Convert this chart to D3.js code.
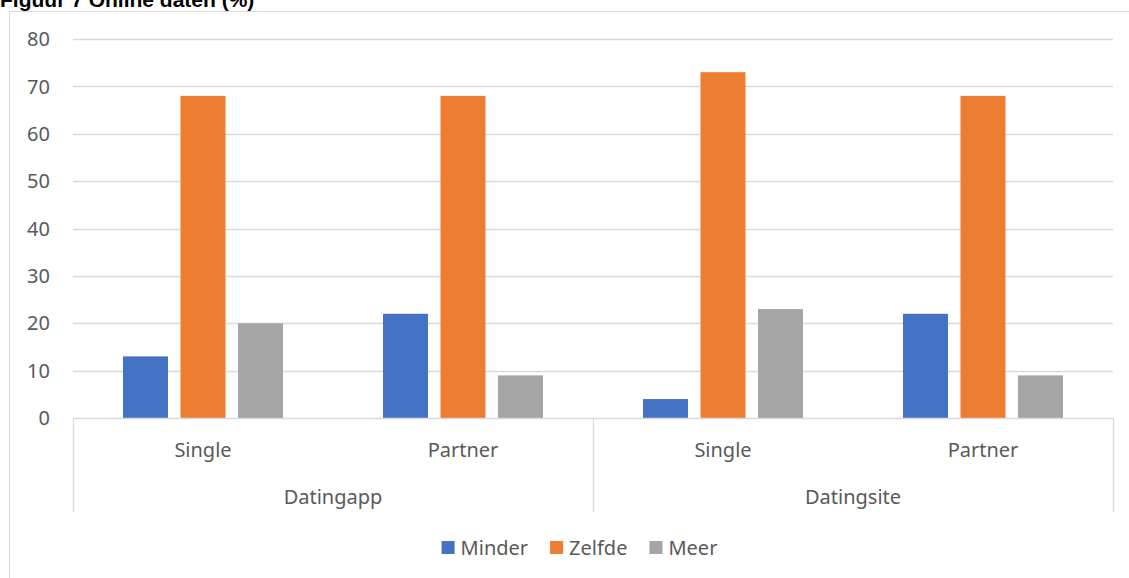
<!DOCTYPE html>
<html>
<head>
<meta charset="utf-8">
<script src="https://cdn.jsdelivr.net/npm/d3@7"></script>
<style>
  body { margin: 0; background: #fff; }
  svg { display: block; }
  text { font-family: "Noto Sans", "Open Sans", sans-serif; fill: #595959; }
</style>
</head>
<body>
<svg id="chart" width="1129" height="578"></svg>
<script>
var groups = ["Datingapp", "Datingsite"];
var categories = ["Single", "Partner", "Single", "Partner"];
var series = ["Minder", "Zelfde", "Meer"];
var colors = ["#4472C4", "#ED7D31", "#A5A5A5"];
var minder = [13, 22, 4, 22];
var zelfde = [68, 68, 73, 68];
var meer = [20, 9, 23, 9];
var yTicks = [0, 10, 20, 30, 40, 50, 60, 70, 80];

var values = [minder, zelfde, meer];
var plotLeft = 73, plotRight = 1113, plotTop = 39, plotBottom = 418;
var gridColor = "#d9d9d9";
var labelSize = "20px";

var svg = d3.select("#chart");

// title, mostly cut off at the top like in the source
svg.append("text")
    .attr("x", 0)
    .attr("y", 7)
    .style("font-family", "'Liberation Sans Narrow', 'Arial Narrow', 'Liberation Sans', sans-serif")
    .style("font-weight", "bold")
    .style("font-size", "21px")
    .style("fill", "#000")
    .text("Figuur 7 Online daten (%)");

// chart frame
svg.append("path")
    .attr("d", "M9.5,578 V11.5 H1129")
    .attr("fill", "none")
    .attr("stroke", gridColor)
    .attr("stroke-width", 1);

var y = d3.scaleLinear().domain([0, 80]).range([plotBottom, plotTop]);

var x0 = d3.scaleBand()
    .domain(d3.range(categories.length))
    .range([plotLeft, plotRight])
    .padding(0);

var x1 = d3.scaleBand()
    .domain(series)
    .range([0, x0.bandwidth()])
    .paddingInner(0.217)
    .paddingOuter(0.87);

// gridlines
svg.append("g")
    .selectAll("line")
    .data(yTicks.filter(function(d) { return d > 0; }))
    .join("line")
    .attr("x1", plotLeft)
    .attr("x2", plotRight)
    .attr("y1", function(d) { return Math.round(y(d)) + 0.5; })
    .attr("y2", function(d) { return Math.round(y(d)) + 0.5; })
    .attr("stroke", gridColor)
    .attr("stroke-width", 1.3);

// y tick labels
svg.append("g")
    .selectAll("text")
    .data(yTicks)
    .join("text")
    .attr("x", 50)
    .attr("y", function(d) { return y(d); })
    .attr("dy", "0.36em")
    .attr("text-anchor", "end")
    .style("font-size", labelSize)
    .text(function(d) { return d; });

// bars
var barGroups = svg.append("g")
    .selectAll("g")
    .data(categories.map(function(c, i) { return i; }))
    .join("g")
    .attr("transform", function(i) { return "translate(" + x0(i) + ",0)"; });

barGroups.selectAll("rect")
    .data(function(i) {
        return series.map(function(s, k) { return { key: s, value: values[k][i], color: colors[k] }; });
    })
    .join("rect")
    .attr("x", function(d) { return x1(d.key); })
    .attr("width", x1.bandwidth())
    .attr("y", function(d) { return y(d.value); })
    .attr("height", function(d) { return y(0) - y(d.value); })
    .attr("fill", function(d) { return d.color; });

// category axis: baseline and group separators
svg.append("line")
    .attr("x1", plotLeft)
    .attr("x2", plotRight)
    .attr("y1", plotBottom + 0.5)
    .attr("y2", plotBottom + 0.5)
    .attr("stroke", gridColor)
    .attr("stroke-width", 1.3);

var groupSize = categories.length / groups.length;
var separators = d3.range(groups.length + 1).map(function(g) {
    return g < groups.length ? x0(g * groupSize) : x0.range()[1];
});
svg.append("g")
    .selectAll("line")
    .data(separators)
    .join("line")
    .attr("x1", function(d) { return Math.round(d) + 0.5; })
    .attr("x2", function(d) { return Math.round(d) + 0.5; })
    .attr("y1", plotBottom)
    .attr("y2", 512)
    .attr("stroke", gridColor)
    .attr("stroke-width", 1.3);

svg.append("g")
    .selectAll("text")
    .data(categories)
    .join("text")
    .attr("x", function(d, i) { return x0(i) + x0.bandwidth() / 2; })
    .attr("y", 457)
    .attr("text-anchor", "middle")
    .style("font-size", labelSize)
    .text(function(d) { return d; });

svg.append("g")
    .selectAll("text")
    .data(groups)
    .join("text")
    .attr("x", function(d, g) { return x0(g * groupSize) + x0.bandwidth() * groupSize / 2; })
    .attr("y", 504)
    .attr("text-anchor", "middle")
    .style("font-size", labelSize)
    .text(function(d) { return d; });

// legend
var legend = svg.append("g");
var items = legend.selectAll("g")
    .data(series)
    .join("g");
items.append("rect")
    .attr("width", 13)
    .attr("height", 13)
    .attr("y", 541)
    .attr("fill", function(d, k) { return colors[k]; });
items.append("text")
    .attr("x", 19)
    .attr("y", 555)
    .style("font-size", labelSize)
    .text(function(d) { return d; });

var lx = 0;
var offsets = [];
items.each(function() {
    offsets.push(lx);
    lx += this.getBBox().width + 22;
});
var totalW = lx - 22;
var startX = 579.5 - totalW / 2;
items.attr("transform", function(d, k) { return "translate(" + (startX + offsets[k]) + ",0)"; });
</script>
</body>
</html>
